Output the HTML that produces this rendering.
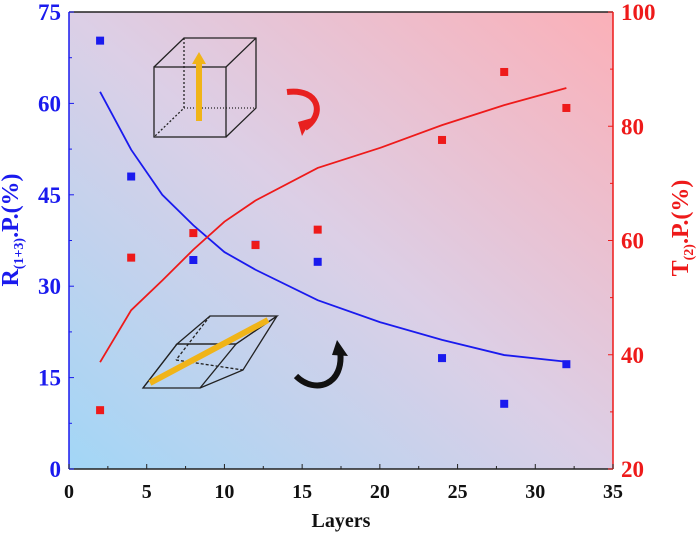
<!DOCTYPE html>
<html><head><meta charset="utf-8"><style>
body{margin:0;background:#fff;}
svg{display:block;font-family:"Liberation Serif",serif;font-weight:bold;}
</style></head><body>
<svg id="chart" width="700" height="536" viewBox="0 0 700 536">
<defs>
<linearGradient id="bg" x1="0" y1="1" x2="1" y2="0">
<stop offset="0" stop-color="#a2d6f6"/><stop offset="0.5" stop-color="#dccfe6"/><stop offset="1" stop-color="#fbb0b8"/>
</linearGradient>
</defs>
<rect x="69" y="12" width="544" height="457" fill="url(#bg)"/>
<g id="axes"></g>
<g id="marks"></g>
<g fill="none" stroke="#222" stroke-width="1.3">
<rect x="154" y="67" width="72" height="70"/>
<polyline points="154,67 184,38 256,38 256,108 226,137"/><line x1="226" y1="67" x2="256" y2="38"/>
<polyline points="184,38 184,108 154,137" stroke-dasharray="2,2"/><line x1="184" y1="108" x2="256" y2="108" stroke-dasharray="1,2"/>
<rect x="196" y="63" width="6" height="58" fill="#f0b418" stroke="none"/><polygon points="192,64 199,52 206,64" fill="#f0b418" stroke="none"/>
</g>
<g fill="none" stroke="#222" stroke-width="1.3">
<polygon points="143,388 200,388 236,344 177,344"/><polygon points="177,344 210,316 277,316 236,344"/>
<polyline points="236,344 277,316 243,370 200,388"/><line x1="143" y1="388" x2="177" y2="344"/>
<line x1="210" y1="316" x2="176" y2="360" stroke-dasharray="3,2"/><line x1="176" y1="360" x2="243" y2="370" stroke-dasharray="3,2"/>
<line x1="150" y1="383" x2="268" y2="320" stroke="#f0b418" stroke-width="6"/>
</g>
<path d="M287,92 C320,88 325,115 305,128" fill="none" stroke="#e82020" stroke-width="6"/>
<polygon points="298,122 312,118 302,136" fill="#e82020"/>
<path d="M296,376 C315,395 345,385 340,350" fill="none" stroke="#111" stroke-width="6"/>
<polygon points="332,355 348,356 337,340" fill="#111"/>
<text x="341" y="527" font-size="20" text-anchor="middle" fill="#111">Layers</text>
<text transform="translate(18,230) rotate(-90)" font-size="24" text-anchor="middle" fill="#1a1aee">R<tspan font-size="14" dy="5">(1+3)</tspan><tspan dy="-5">.P.(%)</tspan></text>
<text transform="translate(688,228) rotate(-90)" font-size="24" text-anchor="middle" fill="#ee1a1a">T<tspan font-size="14" dy="5">(2)</tspan><tspan dy="-5">.P.(%)</tspan></text>
</svg>
<script>
const layersPts=[2,4,8,12,16,24,28,32];
const blueVals=[70.3,48.0,34.3,36.8,34.0,18.2,10.7,17.2];
const redVals=[30.3,57.0,61.3,59.2,61.9,77.6,89.5,83.2];
const fitX=[2,4,6,8,10,12,16,20,24,28,32];
const blueFit=[61.9,52.4,45,40,35.6,32.7,27.7,24.1,21.2,18.7,17.6];
const redFit=[38.7,47.8,53,58.4,63.3,67,72.7,76.2,80.2,83.7,86.7];
const xTicks=[0,5,10,15,20,25,30,35];
const leftTicks=[0,15,30,45,60,75];
const rightTicks=[20,40,60,80,100];
const X0=69,X1=613,Y0=469,Y1=12;
const sx=v=>X0+(v/35)*(X1-X0);
const syL=v=>Y0-(v/75)*(Y0-Y1);
const syR=v=>Y0-((v-20)/80)*(Y0-Y1);
const NS="http://www.w3.org/2000/svg";
function mk(tag,at,parent){const e=document.createElementNS(NS,tag);for(const k in at)e.setAttribute(k,at[k]);parent.appendChild(e);return e;}
const ax=document.getElementById('axes'),mg=document.getElementById('marks');
let e;
e=mk('line',{x1:X0,y1:Y0,x2:X1,y2:Y0,stroke:'#222','stroke-width':1.5},ax);

e=mk('line',{x1:X0,y1:Y1,x2:X1,y2:Y1,stroke:'#222','stroke-width':1.5},ax);

e=mk('line',{x1:X0,y1:Y0,x2:X0,y2:Y1,stroke:'#1a1aee','stroke-width':1.5},ax);

e=mk('line',{x1:X1,y1:Y0,x2:X1,y2:Y1,stroke:'#ee1a1a','stroke-width':1.5},ax);

xTicks.forEach(t=>{
 mk('line',{x1:sx(t),y1:Y0,x2:sx(t),y2:Y0-5,stroke:'#222'},ax);
 if(t<35)mk('line',{x1:sx(t+2.5),y1:Y0,x2:sx(t+2.5),y2:Y0-3,stroke:'#222'},ax);
 e=mk('text',{x:sx(t),y:Y0+29,'font-size':20,'text-anchor':'middle',fill:'#111'},ax);e.textContent=t;
 
});
leftTicks.forEach(t=>{
 mk('line',{x1:X0,y1:syL(t),x2:X0+5,y2:syL(t),stroke:'#1a1aee'},ax);
 if(t<75)mk('line',{x1:X0,y1:syL(t+7.5),x2:X0+3,y2:syL(t+7.5),stroke:'#1a1aee'},ax);
 e=mk('text',{x:X0-8,y:syL(t)+8,'font-size':23,'text-anchor':'end',fill:'#1a1aee'},ax);e.textContent=t;
 
});
rightTicks.forEach(t=>{
 mk('line',{x1:X1,y1:syR(t),x2:X1-5,y2:syR(t),stroke:'#ee1a1a'},ax);
 if(t<100)mk('line',{x1:X1,y1:syR(t+10),x2:X1-3,y2:syR(t+10),stroke:'#ee1a1a'},ax);
 e=mk('text',{x:X1+8,y:syR(t)+8,'font-size':23,'text-anchor':'start',fill:'#ee1a1a'},ax);e.textContent=t;
 
});
e=mk('polyline',{points:fitX.map((x,i)=>sx(x)+','+syL(blueFit[i])).join(' '),fill:'none',stroke:'#1a1aee','stroke-width':1.8},mg);

e=mk('polyline',{points:fitX.map((x,i)=>sx(x)+','+syR(redFit[i])).join(' '),fill:'none',stroke:'#ee1a1a','stroke-width':1.8},mg);

layersPts.forEach((x,i)=>{
 e=mk('rect',{x:sx(x)-4,y:syL(blueVals[i])-4,width:8,height:8,fill:'#1a1aee'},mg);
 
 e=mk('rect',{x:sx(x)-4,y:syR(redVals[i])-4,width:8,height:8,fill:'#ee1a1a'},mg);
 
});
</script>
</body></html>
